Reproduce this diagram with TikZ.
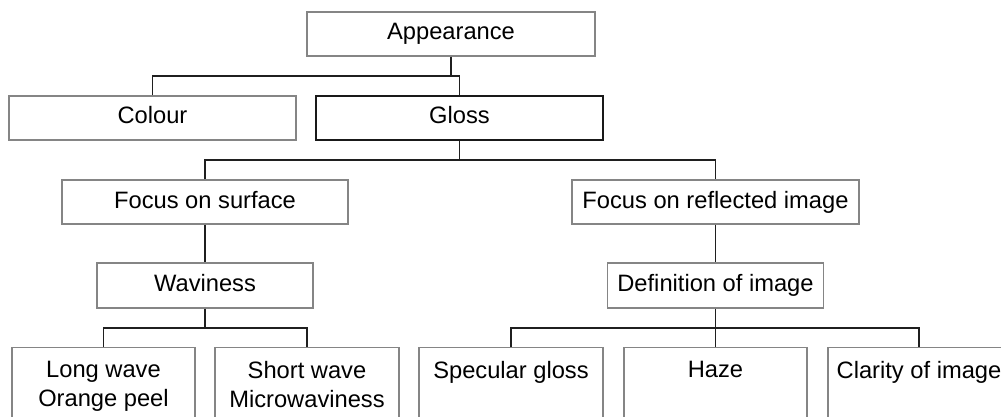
\documentclass[tikz,border=0pt]{standalone}
\usepackage{fontspec}
\setmainfont{Liberation Sans}
\usetikzlibrary{calc}
\begin{document}
\begin{tikzpicture}[x=1pt,y=-1pt,
  every node/.style={font=\fontsize{23.7pt}{29pt}\selectfont},
  box/.style={draw=black!48, line width=1.4pt, fill=white, inner sep=0pt, text height=16.5pt, text depth=4.5pt},
  darkbox/.style={box, draw=black!90},
  tallbox/.style={draw=black!48, line width=1.4pt, fill=white, inner sep=0pt, anchor=north, minimum height=120pt},
  txt/.style={anchor=north, inner sep=0pt, align=center},
  conn/.style={draw=black!88, line width=1.4pt}]
\useasboundingbox (0,0) rectangle (1001,417);
\clip (0,0) rectangle (1001,417);
% level 0
\node[box, minimum width=288pt, minimum height=44pt] (app) at (451,34) {Appearance};
% level 1
\node[box, minimum width=287pt, minimum height=44pt] (col) at (152.5,118) {Colour};
\node[darkbox, minimum width=287pt, minimum height=44pt] (glo) at (459.5,118) {Gloss};
% level 2
\node[box, minimum width=286pt, minimum height=44pt] (fs) at (205,202) {Focus on surface};
\node[box, minimum width=287pt, minimum height=44pt] (fr) at (715.5,202) {Focus on reflected image};
% level 3
\node[box, minimum width=216pt, minimum height=45pt] (wav) at (205,285.5) {Waviness};
\node[box, minimum width=216pt, minimum height=45pt] (def) at (715.5,285.5) {Definition of image};
% level 4 (boxes cut off by the lower edge)
\node[tallbox, minimum width=183pt] (lw) at (103.5,347) {};
\node[tallbox, minimum width=184pt] (sw) at (307,347) {};
\node[tallbox, minimum width=184pt] (sg) at (511,347) {};
\node[tallbox, minimum width=183pt] (hz) at (715.5,347) {};
\node[tallbox, minimum width=182pt] (cl) at (919,347) {};
\node[txt] (lwt) at ($(lw.north)+(0,14)$) {Long wave\\Orange peel};
\node[txt] (swt) at ($(sw.north)+(0,14)$) {Short wave\\Microwaviness};
\node[txt] (sgt) at ($(sg.north)+(0,14)$) {Specular gloss};
\node[txt] (hzt) at ($(hz.north)+(0,14)$) {Haze};
\node[txt] (clt) at ($(cl.north)+(0,14)$) {Clarity of image};
% connectors
\coordinate (j1) at (451,76);
\coordinate (j2) at (459.5,160);
\coordinate (j3) at (205,328);
\coordinate (j4) at (715.5,328);
\draw[conn] (app.south) -- (j1);
\draw[conn] (col.north) |- (j1) -| (glo.north);
\draw[conn] (glo.south) -- (j2);
\draw[conn] (fs.north) |- (j2) -| (fr.north);
\draw[conn] (fs.south) -- (wav.north);
\draw[conn] (fr.south) -- (def.north);
\draw[conn] (wav.south) -- (j3);
\draw[conn] (lw.north) |- (j3) -| (sw.north);
\draw[conn] (def.south) -- (j4) -- (hz.north);
\draw[conn] (sg.north) |- (j4) -| (cl.north);
\end{tikzpicture}
\end{document}
